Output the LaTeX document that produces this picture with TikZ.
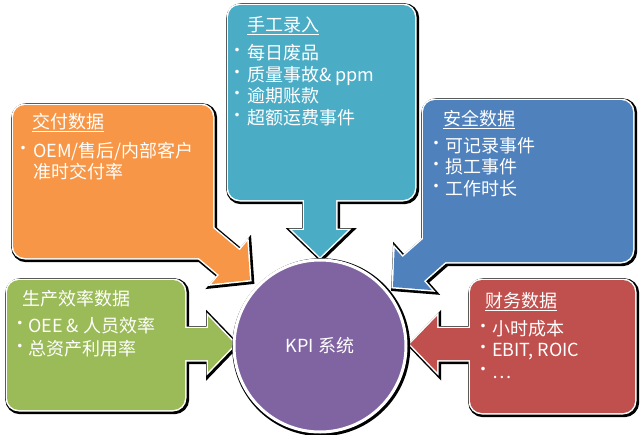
\documentclass[tikz,border=0pt]{standalone}
\usepackage{fontspec}
\setmainfont{Noto Sans CJK SC}
\definecolor{cteal}{HTML}{4BACC6}
\definecolor{corange}{HTML}{F79646}
\definecolor{cblue}{HTML}{4F81BD}
\definecolor{cgreen}{HTML}{9BBB59}
\definecolor{cred}{HTML}{C0504D}
\definecolor{cpurple}{HTML}{8064A2}
\tikzset{
  shadowline/.style={draw=black, line width=6pt, shift={(1.2,1.2)}},
  whiteline/.style={draw=white, line width=3pt},
  txt/.style={anchor=base west, text=white, font=\fontsize{18}{21}\selectfont, inner sep=0pt},
  bul/.style={anchor=center, text=white, font=\fontsize{17}{18}\selectfont, inner sep=0pt},
}
% arrow pointing along local +x, tip at (0,0)
\newcommand\kpiarrowpath[5]{%
  \path[#1, shift={(#2,#3)}, rotate=#4]
    (0,0) -- (-27,-28) -- (-27,-16) -- (-#5,-16) -- (-#5,16) -- (-27,16) -- (-27,28) -- cycle;}
\newcommand\allshapes[6]{%
  \path[#1, rounded corners=12] (228,5) rectangle (415,200);
  \kpiarrowpath{#1}{320}{257}{-90}{70}
  \path[#2, rounded corners=12] (13,105) rectangle (213,258);
  \kpiarrowpath{#2}{250}{280}{-40}{85}
  \path[#3, rounded corners=12] (423,100) rectangle (633,262);
  \kpiarrowpath{#3}{393}{287}{-138.5}{85}
  \path[#4, rounded corners=12] (7,280) rectangle (185,410);
  \kpiarrowpath{#4}{235}{344}{0}{65}
  \path[#5, rounded corners=12] (470,280) rectangle (635,413);
  \kpiarrowpath{#5}{410}{344}{180}{65}
}
\begin{document}
\begin{tikzpicture}[x=1pt, y=-1pt]
\useasboundingbox[fill=white] (0,0) rectangle (640,434);
% layers: shadow outlines, white outlines, colour fills
\allshapes{shadowline}{shadowline}{shadowline}{shadowline}{shadowline}{}
\allshapes{whiteline}{whiteline}{whiteline}{whiteline}{whiteline}{}
\allshapes{fill=cteal}{fill=corange}{fill=cblue}{fill=cgreen}{fill=cred}{}
% central circle
\path[shadowline] (320,346) circle[radius=86];
\node[circle, minimum size=172pt, inner sep=0pt, fill=cpurple, draw=white, line width=3pt,
      text=white, font=\fontsize{18}{21}\selectfont] (kpi) at (320,346) {KPI 系统};
% top box text
\node[txt] (t0) at (247,31) {\underline{手工录入}};
\node[bul] (tb1) at (237,52) {•}; \node[txt] (t1) at (247,59) {每日废品};
\node[bul] (tb2) at (237,74) {•}; \node[txt] (t2) at (247,81) {质量事故\& ppm};
\node[bul] (tb3) at (237,95) {•}; \node[txt] (t3) at (247,102) {逾期账款};
\node[bul] (tb4) at (237,117) {•}; \node[txt] (t4) at (247,124) {超额运费事件};
% orange box text
\node[txt] (o0) at (32,128) {\underline{交付数据}};
\node[bul] (ob1) at (23,150) {•}; \node[txt] (o1) at (33,157) {OEM/售后/内部客户};
\node[txt] (o2) at (33,178) {准时交付率};
% right blue box text
\node[txt] (b0) at (443,125) {\underline{安全数据}};
\node[bul] (bb1) at (436,145) {•}; \node[txt] (b1) at (445,152) {可记录事件};
\node[bul] (bb2) at (436,166) {•}; \node[txt] (b2) at (445,173) {损工事件};
\node[bul] (bb3) at (436,188) {•}; \node[txt] (b3) at (445,195) {工作时长};
% green box text
\node[txt] (g0) at (22,305) {生产效率数据};
\node[bul] (gb1) at (20,325) {•}; \node[txt] (g1) at (28,332) {OEE \& 人员效率};
\node[bul] (gb2) at (20,348) {•}; \node[txt] (g2) at (28,355) {总资产利用率};
% red box text
\node[txt] (r0) at (485,307) {\underline{财务数据}};
\node[bul] (rb1) at (483,328) {•}; \node[txt] (r1) at (492,335) {小时成本};
\node[bul] (rb2) at (483,349) {•}; \node[txt] (r2) at (492,356) {EBIT, ROIC};
\node[bul] (rb3) at (483,371) {•}; \node[txt] (r3) at (492,378) {…};
\end{tikzpicture}
\end{document}
